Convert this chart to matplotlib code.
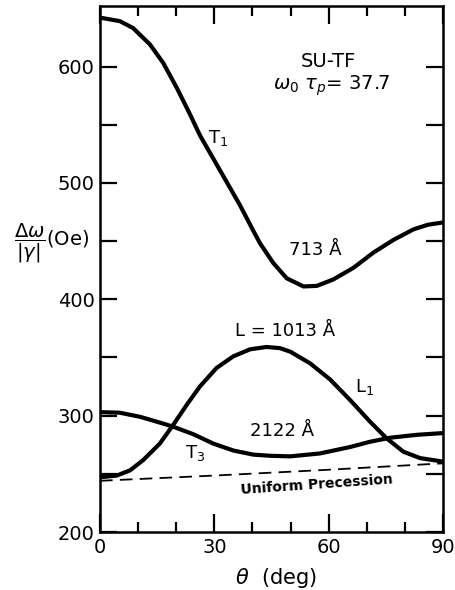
import numpy as np
import matplotlib
matplotlib.use("Agg")
import matplotlib.pyplot as plt
from matplotlib.ticker import FixedLocator

plt.rcParams['font.family'] = 'DejaVu Sans'
plt.rcParams['mathtext.fontset'] = 'dejavusans'

# spin-wave linewidth vs field angle, SU-TF film (omega0*tau_p = 37.7)
theta_t1 = [0, 5.2, 8.7, 13.1, 16.6, 20.1, 23.6, 26.2, 29.7, 33.2, 36.7, 40.2, 42.0,
            45.5, 49.0, 53.4, 56.9, 61.2, 66.5, 71.7, 77.0, 82.2, 86.0, 90]
t1_713 = [642, 639, 633, 619, 603, 582, 559, 541, 521, 501, 481, 459, 448,
          431, 418, 411, 411.5, 417, 427, 440, 451, 460, 464, 466]

theta_l1 = [0, 4.4, 7.9, 11.4, 15.7, 19.2, 22.7, 26.2, 30.6, 35.0, 39.4, 43.7,
            47.2, 49.9, 55.1, 60.4, 65.6, 70.8, 75.2, 79.6, 84.0, 90]
l1_1013 = [247, 248.5, 253, 262, 276, 292, 309, 325, 341, 351, 357, 359,
           358, 355, 345, 331, 313.5, 295, 280.5, 269, 263.5, 260.5]

theta_t3 = [0, 5.2, 10.5, 15.7, 19.2, 24.5, 29.7, 35.0, 40.2, 44.6, 49.9,
            57.7, 65.6, 70.8, 76.1, 83.1, 90]
t3_2122 = [303, 302.5, 299, 294, 290.5, 284, 276, 270, 266.5, 265.5, 265,
           267.5, 273, 277.5, 281, 283.5, 285]

theta_u = [0, 30, 60, 90]
uniform = [244, 248.5, 253.5, 259]

fig = plt.figure(figsize=(4.56, 5.90), dpi=100)
ax = fig.add_axes([100/456, 1-532/590, 343/456, 526/590])

lw = 3.0
for th, val in [(theta_t1, t1_713), (theta_l1, l1_1013), (theta_t3, t3_2122)]:
    ax.plot(th, val, color='black', lw=lw, solid_capstyle='butt', solid_joinstyle='round')
ax.plot(theta_u, uniform, color='black', lw=1.3, dashes=(7, 4))

ax.set_xlim(0, 90)
ax.set_ylim(200, 652)

for s in ax.spines.values():
    s.set_linewidth(1.8)

ax.xaxis.set_major_locator(FixedLocator([0, 30, 60, 90]))
ax.xaxis.set_minor_locator(FixedLocator([10, 20, 40, 50, 70, 80]))
ax.yaxis.set_major_locator(FixedLocator([200, 300, 400, 500, 600]))
ax.yaxis.set_minor_locator(FixedLocator([250, 350, 450, 550]))
ax.tick_params(which='both', direction='in', top=True, right=True, width=1.6, labelsize=14)
ax.tick_params(axis='x', which='major', length=13, pad=4)
ax.tick_params(axis='x', which='minor', length=7)
ax.tick_params(axis='y', which='both', length=12, pad=4)

ax.text(0.665, 0.894, 'SU-TF', transform=ax.transAxes, ha='center', va='center', fontsize=14)
ax.text(0.676, 0.848, r'$\omega_0\ \tau_p$= 37.7', transform=ax.transAxes, ha='center', va='center', fontsize=14)
ax.text(31, 539, r'T$_1$', ha='center', va='center', fontsize=13)
ax.text(56.5, 442, '713 Å', ha='center', va='center', fontsize=13)
ax.text(48.5, 373, 'L = 1013 Å', ha='center', va='center', fontsize=13)
ax.text(69.5, 325, r'L$_1$', ha='center', va='center', fontsize=13)
ax.text(47.7, 287, '2122 Å', ha='center', va='center', fontsize=13)
ax.text(25, 268, r'T$_3$', ha='center', va='center', fontsize=13)
ax.text(56.9, 241, 'Uniform Precession', ha='center', va='center', fontsize=10,
        fontweight='bold', rotation=4)

fig.text(52/456, 1-243/590, r'$\dfrac{\Delta\omega}{|\gamma|}$(Oe)', ha='center', va='center', fontsize=14)
fig.text(276/456, 1-578/590, r'$\theta$  (deg)', ha='center', va='center', fontsize=15)

fig.savefig('out.png', dpi=100)
